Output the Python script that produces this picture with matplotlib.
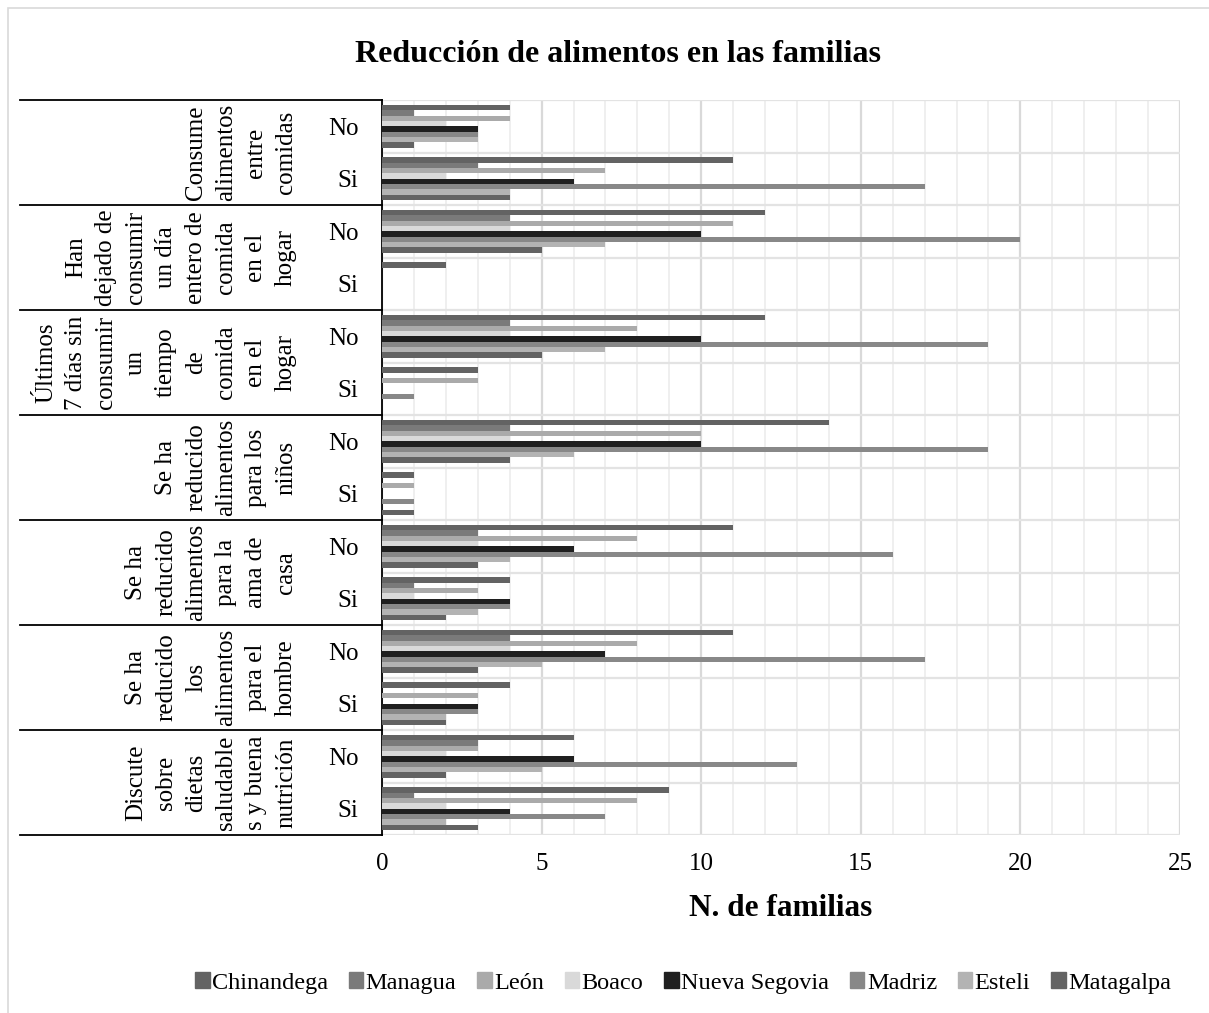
import numpy as np
import matplotlib as mpl
mpl.use('Agg')
import matplotlib.pyplot as plt
from matplotlib.transforms import blended_transform_factory
from matplotlib.patches import Rectangle, Patch

plt.rcParams['font.family'] = ['Liberation Serif', 'DejaVu Serif']

# Question groups (outer level) and answers (inner level), top to bottom
groups = ['Consume\nalimentos\nentre\ncomidas',
          'Han\ndejado de\nconsumir\nun día\nentero de\ncomida\nen el\nhogar',
          'Últimos\n7 días sin\nconsumir\nun\ntiempo\nde\ncomida\nen el\nhogar',
          'Se ha\nreducido\nalimentos\npara los\nniños',
          'Se ha\nreducido\nalimentos\npara la\nama de\ncasa',
          'Se ha\nreducido\nlos\nalimentos\npara el\nhombre',
          'Discute\nsobre\ndietas\nsaludable\ns y buena\nnutrición']
answers = ['No', 'Si']

series = ['Chinandega', 'Managua', 'León', 'Boaco', 'Nueva Segovia',
          'Madriz', 'Esteli', 'Matagalpa']
chinandega = [4, 11, 12, 2, 12, 3, 14, 1, 11, 4, 11, 4, 6, 9]
managua = [1, 3, 4, 0, 4, 0, 4, 0, 3, 1, 4, 0, 3, 1]
leon = [4, 7, 11, 0, 8, 3, 10, 1, 8, 3, 8, 3, 3, 8]
boaco = [2, 2, 4, 0, 4, 0, 4, 0, 3, 1, 4, 0, 2, 2]
nueva_segovia = [3, 6, 10, 0, 10, 0, 10, 0, 6, 4, 7, 3, 6, 4]
madriz = [3, 17, 20, 0, 19, 1, 19, 1, 16, 4, 17, 3, 13, 7]
esteli = [3, 4, 7, 0, 7, 0, 6, 0, 4, 3, 5, 2, 5, 2]
matagalpa = [1, 4, 5, 0, 5, 0, 4, 1, 3, 2, 3, 2, 2, 3]
values = [chinandega, managua, leon, boaco, nueva_segovia, madriz, esteli, matagalpa]
colors = ['#636363', '#7a7a7a', '#aaaaaa', '#d9d9d9', '#1f1f1f',
          '#888888', '#b3b3b3', '#636363']

fig = plt.figure(figsize=(12.09, 10.13), dpi=100)
fig.patches.append(Rectangle((8 / 1209, -0.1), 1.2, 1.1 - 8 / 1013,
                             transform=fig.transFigure, fill=False,
                             edgecolor='#d9d9d9', linewidth=1.2))
ax = fig.add_axes([382 / 1209, 1 - 835 / 1013, 798 / 1209, 735 / 1013])

ncat = len(groups) * len(answers)
y = np.arange(ncat)
span = 0.81
h = span / len(series)
for i, (name, vals, c) in enumerate(zip(series, values, colors)):
    ax.barh(y - span / 2 + (i + 0.5) * h, vals, height=h, color=c,
            label=name, zorder=3)

ax.set_xlim(0, 25)
ax.set_ylim(ncat - 0.5, -0.5)
ax.set_xticks(np.arange(0, 26, 5))
ax.set_xticks(np.arange(0, 26, 1), minor=True)
ax.set_yticks(y)
ax.set_yticklabels(answers * len(groups))
ax.set_yticks(np.arange(-0.5, ncat, 1), minor=True)
ax.grid(axis='x', which='major', color='#d9d9d9', linewidth=1.6, zorder=0)
ax.grid(axis='x', which='minor', color='#efefef', linewidth=1.4, zorder=0)
ax.grid(axis='y', which='minor', color='#e3e3e3', linewidth=1.6, zorder=0)
ax.tick_params(axis='both', which='both', length=0, labelsize=18)
ax.tick_params(axis='y', pad=17)
ax.tick_params(axis='x', pad=13)
for s in ['top', 'right', 'bottom']:
    ax.spines[s].set_visible(False)
ax.spines['left'].set_linewidth(1.3)
ax.set_xlabel('N. de familias', fontsize=22.5, fontweight='bold', labelpad=14)

# outer category labels and separators
tr = blended_transform_factory(fig.transFigure, ax.transData)
for k in range(len(groups) + 1):
    yb = k * 2 - 0.5
    ax.plot([20 / 1209, 382 / 1209], [yb, yb], color='black', linewidth=1.3,
            transform=tr, clip_on=False)
for k, g in enumerate(groups):
    ax.text(297 / 1209, k * 2 + 0.5, g, transform=tr, rotation=90,
            ha='right', va='center', multialignment='center', fontsize=18,
            linespacing=1.47)

fig.text(0.511, 1 - 55 / 1013, 'Reducción de alimentos en las familias',
         ha='center', va='center', fontsize=23, fontweight='bold')

handles = [Patch(color=c) for c in colors]
fig.legend(handles, series, loc='center', ncol=8, frameon=False,
           bbox_to_anchor=(683 / 1209, 1 - 983 / 1013),
           prop={'family': 'Liberation Serif', 'size': 17.5},
           handlelength=0.6, handleheight=0.6, handletextpad=0.1,
           columnspacing=0.85)

fig.savefig('out.png', dpi=100)
